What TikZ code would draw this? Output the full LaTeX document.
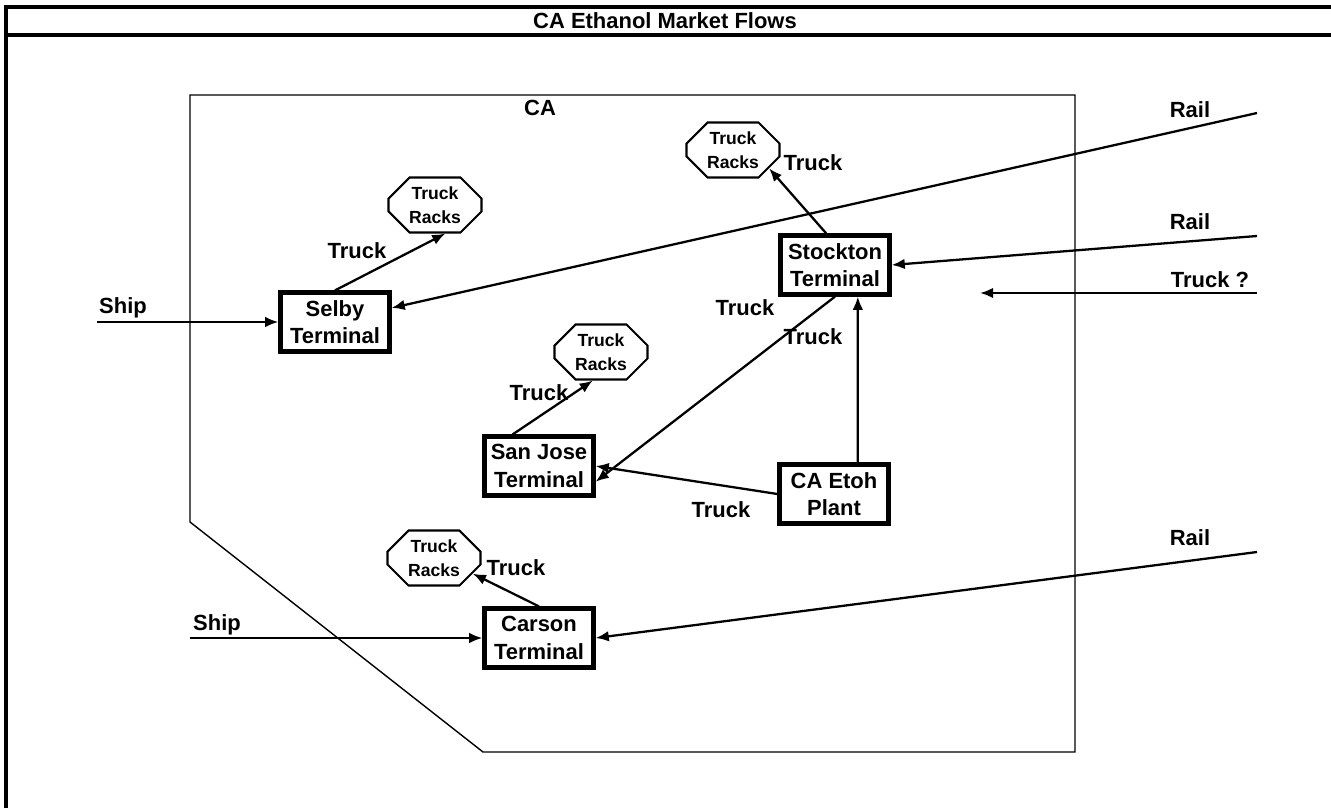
\documentclass[tikz,border=0pt]{standalone}
\usepackage{fontspec}
\setmainfont{Liberation Sans}
\usetikzlibrary{arrows.meta,shapes.misc,positioning}
\tikzset{
    terminal/.style={
    rectangle,draw=black,line width=2.4pt,minimum width=2.18cm,minimum height=1.18cm,
    inner sep=1pt,align=center,font=\fontsize{12.5}{15.5}\selectfont\bfseries
    },
    racks/.style={
    chamfered rectangle,chamfered rectangle xsep=0.3cm,chamfered rectangle ysep=0.12cm,
    draw=black,line width=1.2pt,fill=white,minimum width=1.86cm,minimum height=1.1cm,
    inner sep=0pt,align=center,font=\fontsize{10}{13.5}\selectfont\bfseries
    },
    lbl/.style={inner sep=0pt,font=\fontsize{12.5}{15}\selectfont\bfseries},
  line/.style={draw, line width=1.3pt, -{Latex[length=7.5pt,width=6pt]}},
  region/.style={draw, line width=0.8pt}
}

\begin{document}
\begin{tikzpicture}[x=0.02cm,y=-0.02cm]
    \useasboundingbox (0,0) rectangle (1331,808);

    % frame and title
    \draw[line width=2pt] (6,808) -- (6,7) -- (1331,7);
    \draw[line width=2pt] (6,35) -- (1331,35);
    \node[lbl,font=\fontsize{12.5}{14}\selectfont\bfseries] (title) at (665,21) {CA Ethanol Market Flows};

    % CA area
    \draw[region] (190,95) -- (1075,95) -- (1075,752) -- (483,752) -- (190,522) -- cycle;
    \node[lbl] (ca) at (540,108) {CA};

    \node[terminal] (selby) at (335,322) {Selby\\Terminal};
    \node[terminal] (stockton) at (835,265) {Stockton\\Terminal};
    \node[terminal] (sanjose) at (539,466) {San Jose\\Terminal};
    \node[terminal] (plant) at (834,494) {CA Etoh\\Plant};
    \node[terminal] (carson) at (539,638) {Carson\\Terminal};

    \node[racks] (racksA) at (435,205) {Truck\\Racks};
    \node[racks] (racksB) at (733,150) {Truck\\Racks};
    \node[racks] (racksC) at (601,352) {Truck\\Racks};
    \node[racks] (racksD) at (434,558) {Truck\\Racks};

    \coordinate (shipA) at (97,322);
    \coordinate (shipB) at (190,638);
    \coordinate (railA) at (1257,113);
    \coordinate (railB) at (1257,236);
    \coordinate (truckQ) at (1257,293);
    \coordinate (truckQend) at (980,293);
    \coordinate (railC) at (1257,552);

    \begin{scope} [every path/.style=line]
      \path (selby.north) -- (racksA.-70);
      \path ([xshift=-5pt]stockton.north) -- (racksB.-27);
      \path ([xshift=-15pt]sanjose.north) -- (racksC.-106);
      \path (carson.north) -- (racksD.-22);
      \path (stockton.south) -- ([yshift=-9pt]sanjose.east);
      \path ([xshift=13.5pt]plant.north) -- ([xshift=13pt]stockton.south);
      \path (plant.west) -- (sanjose.east);
      \path (shipA) -- (selby.west);
      \path (shipB) -- (carson.west);
      \path (railA) -- ([yshift=8pt]selby.east);
      \path (railB) -- (stockton.east);
      \path (truckQ) -- (truckQend);
      \path (railC) -- (carson.east);
    \end{scope}

    \node[lbl] (tA) at (357,251) {Truck};
    \node[lbl] (tB) at (813,163) {Truck};
    \node[lbl] (tC) at (539,393) {Truck};
    \node[lbl] (tD) at (516,568) {Truck};
    \node[lbl] (tE) at (745,308) {Truck};
    \node[lbl] (tF) at (813,337) {Truck};
    \node[lbl] (tG) at (721,510) {Truck};
    \node[lbl] (sA) at (123,308) {Ship};
    \node[lbl] (sB) at (217,625) {Ship};
    \node[lbl] (rA) at (1190,110) {Rail};
    \node[lbl] (rB) at (1190,222) {Rail};
    \node[lbl] (rC) at (1190,538) {Rail};
    \node[lbl] (tQ) at (1210,280) {Truck ?};
  \end{tikzpicture}
\end{document}
